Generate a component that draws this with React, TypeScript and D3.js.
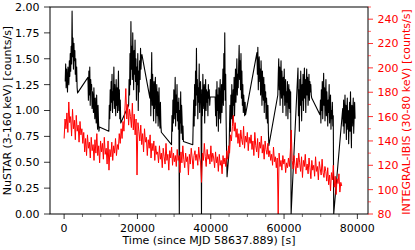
import React from 'react';
import * as d3 from 'd3';

// NuSTAR light curve (3-160 keV), one array per orbit, 125 s bins
const NUSTAR_BIN = 125;
const orbitStarts = [300, 6500, 12200, 17600, 23400, 29300, 35100, 41200, 45000, 52600, 58300, 63800, 69800, 76000];
const orbit1 = [1.28, 1.45, 1.22, 1.40, 1.30, 1.18, 1.42, 1.35, 1.25, 1.48, 1.33, 1.55, 1.38, 1.62, 1.45, 1.96, 1.52, 1.70, 1.40, 1.65, 1.48, 1.58, 1.35, 1.50, 1.28, 1.42, 1.22, 1.17];
const orbit2 = [1.32, 1.10, 1.38, 1.15, 1.42, 1.05, 1.30, 1.20, 1.25, 1.02, 1.18, 1.10, 0.98, 1.22, 1.05, 0.92, 1.12, 1.00, 0.88, 1.15, 0.95, 0.82, 1.05, 0.90, 0.80, 0.84];
const orbit3 = [0.80, 1.05, 0.92, 1.20, 1.00, 1.28, 1.08, 1.35, 0.98, 1.18, 1.10, 1.42, 1.02, 1.25, 1.12, 0.95, 1.30, 1.05, 1.22, 0.98, 1.15, 1.38, 1.00, 1.20, 0.92, 1.10, 0.88];
const orbit4 = [1.05, 1.30, 1.15, 1.55, 1.25, 1.86, 1.40, 1.62, 1.30, 1.75, 1.45, 1.20, 1.58, 1.35, 1.68, 1.28, 1.50, 1.10, 1.42, 1.25, 1.55, 1.00, 1.38, 1.18, 1.48, 1.30, 1.60, 1.40, 1.52, 1.54];
const orbit5 = [1.12, 1.30, 0.95, 1.25, 1.56, 1.05, 1.35, 1.15, 0.90, 1.28, 1.02, 1.20, 1.32, 0.88, 1.10, 1.25, 0.95, 1.18, 0.85, 1.05, 1.22, 0.92, 0.83, 1.08, 0.86, 0.79];
const orbit6 = [0.67, 0.95, 0.80, 1.10, 0.88, 1.20, 0.92, 1.05, 1.32, 0.85, 1.15, 0.98, 1.25, 0.90, 1.08, 0.82, 1.12, 0.00, 1.00, 0.88, 1.18, 0.78, 1.05, 0.92, 0.72, 0.85, 0.70];
const orbit7 = [0.67, 0.90, 1.10, 0.85, 1.25, 0.95, 1.38, 1.05, 1.60, 1.15, 1.30, 0.92, 1.22, 1.08, 1.45, 0.98, 1.18, 1.28, 1.05, 0.00, 1.20, 0.95, 1.35, 1.10, 1.02, 1.25, 0.88, 1.15, 1.30, 1.00, 1.20, 1.08, 1.18, 0.95, 1.25, 1.12, 1.20, 1.05, 1.13];
const orbit8 = [1.13, 0.95, 1.20, 0.85, 1.28, 1.00, 1.15, 0.80, 1.22, 0.92, 1.10, 1.30, 0.88, 1.05, 1.25, 0.98, 1.18, 1.40, 1.05, 1.55, 1.20, 1.75, 1.10, 1.35, 0.90, 0.60, 0.36];
const orbit9 = [0.60, 0.85, 1.05, 0.80, 1.15, 0.92, 1.25, 1.00, 0.88, 1.20, 1.05, 1.32, 0.95, 1.18, 1.40, 1.08, 1.28, 1.50, 1.15, 1.35, 1.22, 1.45, 1.63, 1.30, 1.48, 1.20, 1.55, 1.12, 1.38, 1.05, 1.25, 0.98, 1.15, 1.05, 0.95, 1.08, 0.96];
const orbit10 = [1.56, 1.35, 1.61, 1.20, 1.45, 1.52, 1.28, 1.40, 1.15, 1.48, 1.30, 1.05, 1.38, 1.22, 1.10, 1.32, 0.98, 1.25, 1.08, 1.18, 0.92, 1.12, 1.00, 0.88, 1.05, 0.80, 0.66];
const orbit11 = [1.15, 1.35, 1.50, 1.20, 1.42, 1.05, 1.30, 1.48, 1.12, 1.38, 1.25, 0.98, 1.32, 1.15, 1.40, 1.05, 1.22, 1.30, 0.95, 1.18, 1.08, 1.28, 0.92, 1.15, 1.25, 1.02, 1.20, 0.98, 1.18, 0.00];
const orbit12 = [1.41, 0.95, 1.20, 0.80, 1.30, 1.05, 1.38, 1.15, 0.90, 1.25, 1.10, 1.35, 1.00, 1.22, 1.41, 1.12, 1.30, 0.98, 1.25, 1.40, 1.15, 1.32, 1.05, 1.20, 1.35, 1.10, 1.28, 1.18, 1.25, 1.15, 1.12];
const orbit13 = [0.96, 1.10, 0.88, 1.20, 1.00, 1.28, 0.92, 1.15, 1.36, 1.05, 1.22, 0.90, 1.12, 1.30, 0.95, 1.18, 1.05, 0.85, 1.10, 0.98, 1.25, 0.88, 1.05, 1.15, 0.82, 1.00, 0.92, 1.08, 0.85, 0.95, 0.00];
const orbit14 = [1.02, 0.85, 1.10, 0.78, 0.95, 1.15, 0.88, 1.05, 0.72, 0.98, 1.12, 0.82, 1.00, 0.68, 0.92, 1.08, 0.80, 1.18, 0.90, 0.64, 1.05, 0.85, 0.98, 1.12, 0.78, 0.95, 1.08, 0.92];
const orbits = [orbit1, orbit2, orbit3, orbit4, orbit5, orbit6, orbit7, orbit8, orbit9, orbit10, orbit11, orbit12, orbit13, orbit14];

// INTEGRAL-IBIS light curve (30-80 keV), 255 s bins from t = 0
const INTEGRAL_BIN = 255;
const ibisRate = [
  142, 158, 150, 163, 147, 172, 155, 160, 144, 166, 150, 157, 141, 161, 148, 153, 139, 156, 145, 150,
  138, 147, 131, 142, 128, 145, 134, 139, 126, 143, 132, 137, 124, 141, 130, 146, 128, 136, 122, 140,
  131, 138, 125, 143, 129, 134, 121, 140, 116, 133, 127, 139, 124, 136, 130, 142, 128, 137, 133, 146,
  138, 150, 142, 156, 148, 165, 183, 158, 170, 153, 166, 160, 151, 171, 149, 162, 145, 158, 112, 155,
  148, 140, 153, 137, 146, 131, 150, 139, 143, 128, 141, 134, 145, 126, 138, 132, 140, 124, 136, 129,
  131, 122, 136, 125, 130, 118, 134, 127, 121, 138, 124, 129, 116, 132, 126, 135, 120, 130, 123, 128,
  119, 133, 124, 128, 114, 131, 122, 136, 125, 118, 130, 123, 127, 112, 129, 121, 134, 126, 117, 128,
  132, 124, 129, 120, 135, 126, 122, 106, 130, 124, 138, 127, 119, 133, 125, 129, 121, 136, 123, 130,
  126, 118, 131, 122, 127, 115, 129, 120, 124, 113, 128, 121, 126, 119, 132, 125, 136, 130, 145, 140,
  152, 161, 148, 155, 143, 150, 138, 146, 135, 149, 141, 137, 152, 134, 144, 139, 147, 132, 143, 138,
  145, 133, 140, 128, 147, 136, 131, 142, 126, 139, 134, 144, 130, 137, 125, 140, 133, 129, 138, 127,
  132, 124, 129, 120, 135, 123, 127, 118, 126, 80, 130, 119, 124, 116, 128, 121, 125, 114, 122, 118,
  126, 119, 131, 149, 124, 117, 128, 120, 113, 126, 118, 130, 122, 115, 127, 110, 124, 119, 129, 116,
  121, 113, 126, 118, 109, 124, 116, 120, 111, 127, 115, 119, 108, 123, 117, 112, 125, 114, 110, 119,
  115, 107, 118, 104, 112, 99, 114, 108, 120, 102, 111, 96, 109, 105, 113, 98, 106, 103,
];

const xTicks = [0, 20000, 40000, 60000, 80000];
const leftTicks = [0, 0.25, 0.5, 0.75, 1.0, 1.25, 1.5, 1.75, 2.0];
const rightTicks = [80, 100, 120, 140, 160, 180, 200, 220, 240];

const FONT = 'DejaVu Sans, sans-serif';
const L = 50, R = 368, T = 7, B = 214;

export default function App() {
  const x = d3.scaleLinear().domain([-3850, 82900]).range([L, R]);
  const yL = d3.scaleLinear().domain([0, 2]).range([B, T]);
  const yR = d3.scaleLinear().domain([80, 250]).range([B, T]);

  const nustar: [number, number][] = [];
  orbits.forEach((o, k) => o.forEach((v, i) => nustar.push([orbitStarts[k] + i * NUSTAR_BIN, v])));
  const ibis: [number, number][] = ibisRate.map((v, i) => [i * INTEGRAL_BIN, v]);

  const lineL = d3.line<[number, number]>().x(d => x(d[0])).y(d => yL(d[1]));
  const lineR = d3.line<[number, number]>().x(d => x(d[0])).y(d => yR(d[1]));

  const xMinor = d3.range(0, 82900, 5000).filter(t => !xTicks.includes(t));
  const rMinor = d3.range(90, 251, 10).filter(v => !rightTicks.includes(v));

  return (
    <svg width={415} height={250} style={{ position: 'absolute', left: 0, top: 0, background: '#fff' }}
      fontFamily={FONT}>
      <defs>
        <clipPath id="plot"><rect x={L} y={T} width={R - L} height={B - T} /></clipPath>
      </defs>
      <g clipPath="url(#plot)">
        <path d={lineL(nustar) || ''} fill="none" stroke="#000" strokeWidth={1.1} strokeLinejoin="round" />
        <path d={lineR(ibis) || ''} fill="none" stroke="#ff0000" strokeWidth={1.0} strokeLinejoin="round" />
      </g>
      <rect x={L} y={T} width={R - L} height={B - T} fill="none" stroke="#000" strokeWidth={1} />

      {/* x axis */}
      {xTicks.map(t => (
        <g key={t}>
          <line x1={x(t)} x2={x(t)} y1={B} y2={B + 5} stroke="#000" strokeWidth={0.8} />
          <text x={x(t)} y={231.5} fontSize={11} textAnchor="middle">{t}</text>
        </g>
      ))}
      {xMinor.map(t => (
        <line key={t} x1={x(t)} x2={x(t)} y1={B} y2={B + 3} stroke="#000" strokeWidth={0.6} />
      ))}
      <text x={(L + R) / 2} y={244} fontSize={11} textAnchor="middle">Time (since MJD 58637.889) [s]</text>

      {/* left axis */}
      {leftTicks.map(v => (
        <g key={v}>
          <line x1={L - 6} x2={L} y1={yL(v)} y2={yL(v)} stroke="#000" strokeWidth={0.8} />
          <text x={39.5} y={yL(v)} dy="0.36em" fontSize={11} textAnchor="end">{d3.format('.2f')(v)}</text>
        </g>
      ))}
      <text transform={`translate(11,110.5) rotate(-90)`} fontSize={11} textAnchor="middle">NuSTAR (3-160 keV) [counts/s]</text>

      {/* right axis */}
      {rightTicks.map(v => (
        <g key={v}>
          <line x1={R} x2={R + 5} y1={yR(v)} y2={yR(v)} stroke="#ff0000" strokeWidth={0.8} />
          <text x={377.5} y={yR(v)} dy="0.36em" fontSize={11} fill="#ff0000">{v}</text>
        </g>
      ))}
      {rMinor.map(v => (
        <line key={v} x1={R} x2={R + 3} y1={yR(v)} y2={yR(v)} stroke="#ff0000" strokeWidth={0.6} />
      ))}
      <text transform={`translate(409.5,112) rotate(-90)`} fontSize={11} textAnchor="middle" fill="#ff0000">INTEGRAL-IBIS (30-80 keV) [counts/s]</text>
    </svg>
  );
}
